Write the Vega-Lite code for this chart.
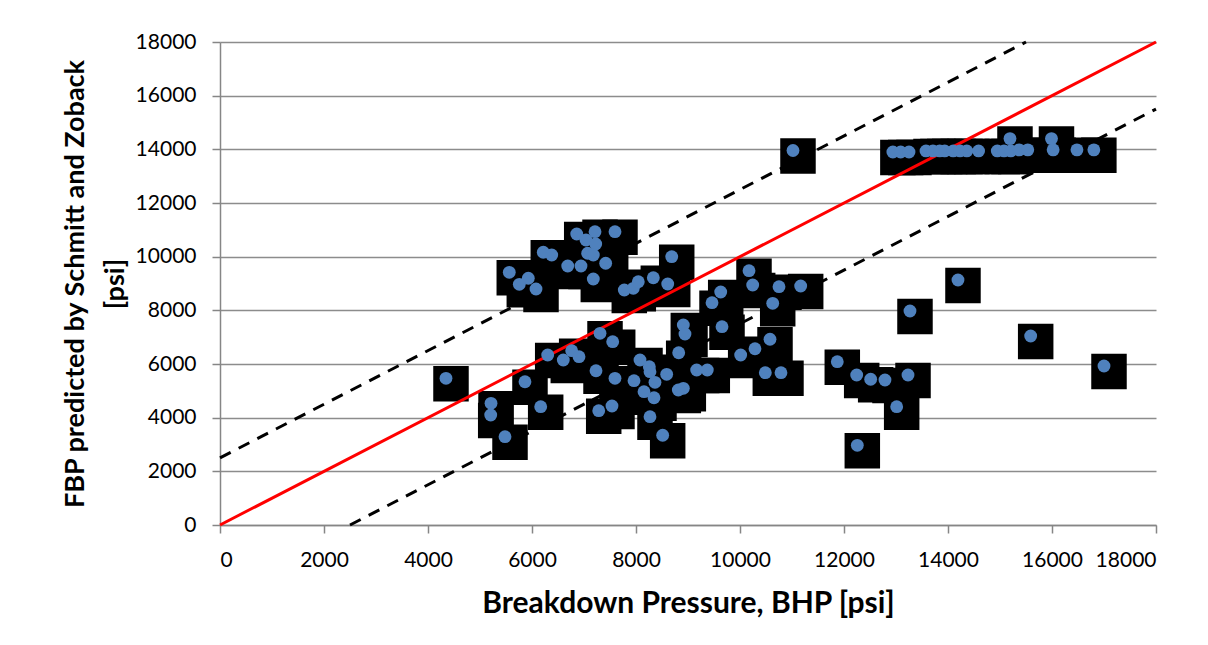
{
  "$schema": "https://vega.github.io/schema/vega-lite/v6.json",
  "width": 936,
  "height": 483,
  "autosize": {"type": "none"},
  "padding": {"left": 220, "top": 42, "right": 52, "bottom": 120},
  "background": "white",
  "config": {
    "view": {"stroke": null},
    "font": "Lato",
    "axis": {
      "labelFont": "Lato",
      "labelFontSize": 21,
      "labelColor": "#000000",
      "titleFont": "Lato",
      "titleFontWeight": "bold",
      "titleColor": "#000000",
      "domainColor": "#868686",
      "domainWidth": 1.5,
      "tickColor": "#868686",
      "tickWidth": 1.5,
      "tickSize": 8,
      "gridColor": "#8c8c8c",
      "gridWidth": 1.5
    }
  },
  "datasets": {
    "pts": [
      {"bhp": 4346, "fbp": 5467}, {"bhp": 5212, "fbp": 4535}, {"bhp": 5206, "fbp": 4099}, {"bhp": 5481, "fbp": 3291},
      {"bhp": 5865, "fbp": 5340}, {"bhp": 6167, "fbp": 4409}, {"bhp": 5563, "fbp": 9417}, {"bhp": 5756, "fbp": 8970},
      {"bhp": 5929, "fbp": 9194}, {"bhp": 6077, "fbp": 8795}, {"bhp": 6217, "fbp": 10163}, {"bhp": 6379, "fbp": 10062},
      {"bhp": 6687, "fbp": 9652}, {"bhp": 6942, "fbp": 9652}, {"bhp": 6860, "fbp": 10845}, {"bhp": 7038, "fbp": 10621},
      {"bhp": 7212, "fbp": 10931}, {"bhp": 7225, "fbp": 10472}, {"bhp": 7071, "fbp": 10126}, {"bhp": 7179, "fbp": 10062},
      {"bhp": 7417, "fbp": 9753}, {"bhp": 7179, "fbp": 9168}, {"bhp": 7596, "fbp": 10931}, {"bhp": 7775, "fbp": 8758},
      {"bhp": 7948, "fbp": 8821}, {"bhp": 8044, "fbp": 9067}, {"bhp": 8333, "fbp": 9216}, {"bhp": 8610, "fbp": 8981},
      {"bhp": 8687, "fbp": 9999}, {"bhp": 7308, "fbp": 7144}, {"bhp": 7552, "fbp": 6831}, {"bhp": 6302, "fbp": 6335},
      {"bhp": 6602, "fbp": 6149}, {"bhp": 6763, "fbp": 6496}, {"bhp": 6904, "fbp": 6272}, {"bhp": 7231, "fbp": 5750},
      {"bhp": 7596, "fbp": 5467}, {"bhp": 7962, "fbp": 5378}, {"bhp": 8077, "fbp": 6149}, {"bhp": 8256, "fbp": 5899},
      {"bhp": 8269, "fbp": 5713}, {"bhp": 8365, "fbp": 5318}, {"bhp": 8590, "fbp": 5616}, {"bhp": 8154, "fbp": 4968},
      {"bhp": 8346, "fbp": 4744}, {"bhp": 7283, "fbp": 4260}, {"bhp": 7538, "fbp": 4435}, {"bhp": 8269, "fbp": 4036},
      {"bhp": 8513, "fbp": 3343}, {"bhp": 8821, "fbp": 6421}, {"bhp": 8910, "fbp": 7453}, {"bhp": 8942, "fbp": 7118},
      {"bhp": 8910, "fbp": 5094}, {"bhp": 8814, "fbp": 5031}, {"bhp": 9167, "fbp": 5776}, {"bhp": 9371, "fbp": 5776},
      {"bhp": 9462, "fbp": 8285}, {"bhp": 9629, "fbp": 8683}, {"bhp": 9654, "fbp": 7390}, {"bhp": 10013, "fbp": 6335},
      {"bhp": 10288, "fbp": 6570}, {"bhp": 10577, "fbp": 6921}, {"bhp": 10487, "fbp": 5676}, {"bhp": 10788, "fbp": 5676},
      {"bhp": 10173, "fbp": 9477}, {"bhp": 10244, "fbp": 8944}, {"bhp": 10750, "fbp": 8881}, {"bhp": 11167, "fbp": 8907},
      {"bhp": 10629, "fbp": 8262}, {"bhp": 11019, "fbp": 13957}, {"bhp": 11871, "fbp": 6086}, {"bhp": 12244, "fbp": 5590},
      {"bhp": 12513, "fbp": 5430}, {"bhp": 12788, "fbp": 5404}, {"bhp": 13231, "fbp": 5590}, {"bhp": 13013, "fbp": 4409},
      {"bhp": 12256, "fbp": 2970}, {"bhp": 13269, "fbp": 7975}, {"bhp": 14192, "fbp": 9130}, {"bhp": 15590, "fbp": 7043},
      {"bhp": 17000, "fbp": 5925}, {"bhp": 12940, "fbp": 13900}, {"bhp": 13090, "fbp": 13900}, {"bhp": 13250, "fbp": 13900},
      {"bhp": 13577, "fbp": 13940}, {"bhp": 13710, "fbp": 13940}, {"bhp": 13840, "fbp": 13940}, {"bhp": 13936, "fbp": 13940},
      {"bhp": 14100, "fbp": 13940}, {"bhp": 14230, "fbp": 13940}, {"bhp": 14361, "fbp": 13940}, {"bhp": 14588, "fbp": 13940},
      {"bhp": 14948, "fbp": 13940}, {"bhp": 15077, "fbp": 13940}, {"bhp": 15207, "fbp": 13940}, {"bhp": 15370, "fbp": 13980},
      {"bhp": 15534, "fbp": 13980}, {"bhp": 16022, "fbp": 13980}, {"bhp": 16480, "fbp": 13980}, {"bhp": 16805, "fbp": 13980},
      {"bhp": 15192, "fbp": 14400}, {"bhp": 15990, "fbp": 14400}
    ],
    "lines": [
      {"line": "ref", "bhp": 0, "fbp": 0}, {"line": "ref", "bhp": 18000, "fbp": 18000},
      {"line": "upper", "bhp": 0, "fbp": 2500}, {"line": "upper", "bhp": 15500, "fbp": 18000},
      {"line": "lower", "bhp": 2500, "fbp": 0}, {"line": "lower", "bhp": 18000, "fbp": 15500}
    ]
  },
  "encoding": {
    "x": {
      "field": "bhp", "type": "quantitative",
      "scale": {"domain": [0, 18000], "nice": false, "zero": false},
      "axis": {
        "values": [0, 2000, 4000, 6000, 8000, 10000, 12000, 14000, 16000, 18000],
        "format": "d", "grid": false, "labelPadding": 16,
        "title": "Breakdown Pressure, BHP [psi]", "titleFontSize": 30, "titlePadding": 18
      }
    },
    "y": {
      "field": "fbp", "type": "quantitative",
      "scale": {"domain": [0, 18000], "nice": false, "zero": false},
      "axis": {
        "values": [0, 2000, 4000, 6000, 8000, 10000, 12000, 14000, 16000, 18000],
        "format": "d", "grid": true, "labelPadding": 16,
        "title": ["FBP predicted by Schmitt and Zoback", "[psi]"],
        "titleFontSize": 27, "titleLineHeight": 40, "titlePadding": 6
      }
    }
  },
  "layer": [
    {
      "data": {"name": "pts"},
      "mark": {"type": "square", "filled": true, "color": "#000000", "opacity": 1, "size": 1260, "xOffset": 5, "yOffset": 5.5}
    },
    {
      "data": {"name": "lines"},
      "transform": [{"filter": "datum.line === 'ref'"}],
      "mark": {"type": "line", "color": "#FF0000", "strokeWidth": 3},
      "encoding": {"detail": {"field": "line"}}
    },
    {
      "data": {"name": "lines"},
      "transform": [{"filter": "datum.line !== 'ref'"}],
      "mark": {"type": "line", "color": "#000000", "strokeWidth": 3, "strokeDash": [12, 9]},
      "encoding": {"detail": {"field": "line"}}
    },
    {
      "data": {"name": "pts"},
      "mark": {"type": "circle", "color": "#4F81BD", "opacity": 1, "size": 165}
    }
  ]
}
